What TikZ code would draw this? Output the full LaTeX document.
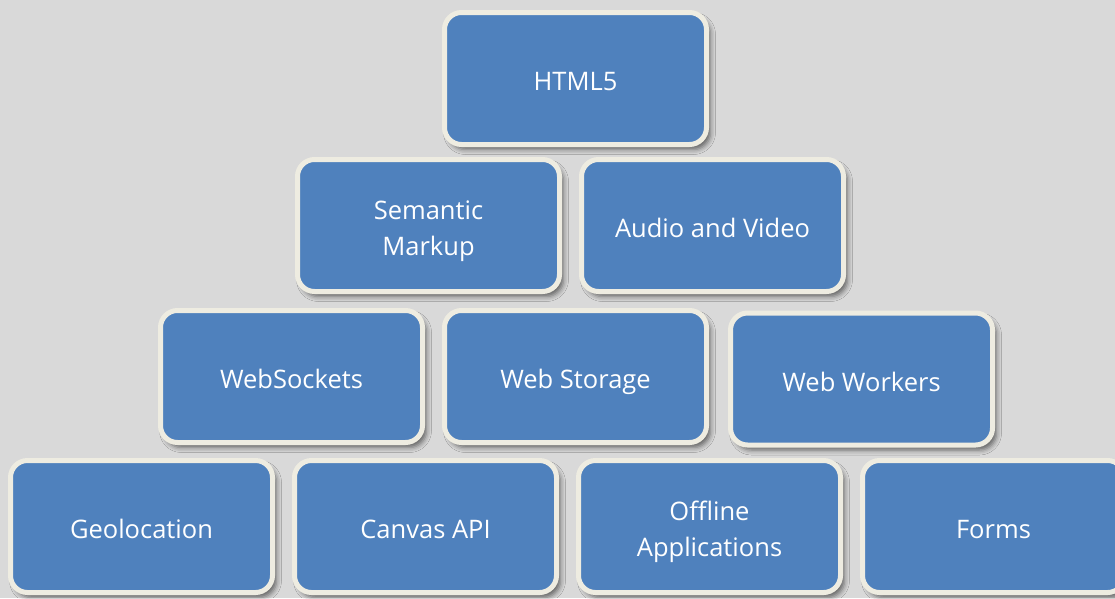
\documentclass[tikz,border=0pt]{standalone}
\usepackage{fontspec}
\setmainfont{Open Sans}
\usetikzlibrary{shadows.blur}
\definecolor{bggray}{HTML}{D9D9D9}
\definecolor{tileblue}{HTML}{4F81BD}
\definecolor{tilerim}{HTML}{EEECE1}
% centred caption, lowered a little inside its tile without changing its size
\newcommand\tilecaption[1]{%
  \raisebox{-5pt}[\height][\depth]{\begin{tabular}{@{}c@{}}#1\end{tabular}}}
\tikzset{
  tile/.style={
    rectangle, rounded corners=17pt,
    minimum width=262pt, minimum height=132pt, inner sep=0pt,
    fill=tileblue, draw=tilerim, line width=5pt,
    text=white,
    font=\fontsize{25.5}{36}\selectfont,
    blur shadow={shadow xshift=4pt, shadow yshift=-5pt,
                 shadow blur radius=5pt, shadow opacity=55}
  }
}
\begin{document}
\begin{tikzpicture}[x=1pt, y=-1pt]
  \useasboundingbox (0,0) rectangle (1115,598);
  \fill[bggray] (0,0) rectangle (1115,598);
  \clip (0,0) rectangle (1115,598);

  % top of the pyramid
  \node[tile] (html) at (575.5,78.5) {\tilecaption{HTML5}};

  % second tier
  \node[tile] (sem)   at (428.5,225.5) {\tilecaption{Semantic\\Markup}};
  \node[tile] (av)    at (712.5,225.5) {\tilecaption{Audio and Video}};

  % third tier
  \node[tile] (ws)    at (291.5,376.5) {\tilecaption{WebSockets}};
  \node[tile] (store) at (575.5,376.5) {\tilecaption{Web Storage}};
  \node[tile] (work)  at (861.5,379)   {\tilecaption{Web Workers}};

  % base tier
  \node[tile] (geo)   at (141.5,526.5) {\tilecaption{Geolocation}};
  \node[tile] (canv)  at (425.5,526.5) {\tilecaption{Canvas API}};
  \node[tile] (off)   at (709.5,526.5) {\tilecaption{Offline\\Applications}};
  \node[tile] (forms) at (993.5,526.5) {\tilecaption{Forms}};
\end{tikzpicture}
\end{document}
